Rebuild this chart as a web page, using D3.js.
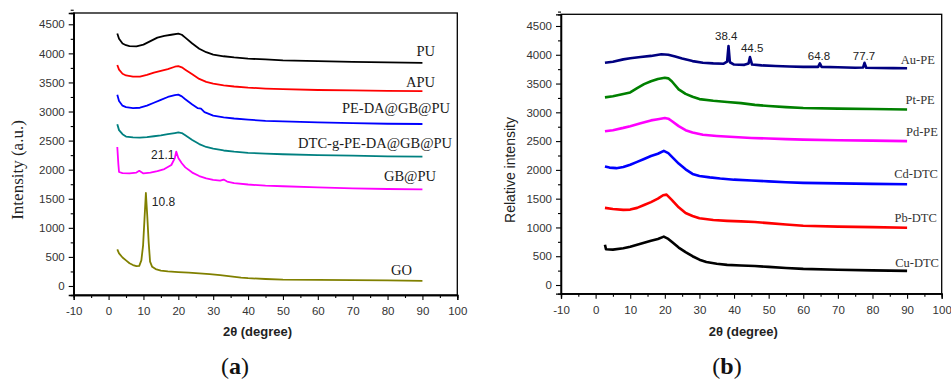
<!DOCTYPE html>
<html><head><meta charset="utf-8">
<script src="https://cdn.jsdelivr.net/npm/d3@7"></script>
<style>
body{margin:0;background:#fff;}
svg{display:block;}
</style></head>
<body>
<svg id="chart" width="951" height="380"></svg>
<script>
// ---------- DATA ----------
const xTicks = [-10,0,10,20,30,40,50,60,70,80,90,100];
const yTicks = [0,500,1000,1500,2000,2500,3000,3500,4000,4500];

// Panel (a)
const seriesA = ["PU","APU","PE-DA@GB@PU","DTC-g-PE-DA@GB@PU","GB@PU","GO"];
const PU = [[2.5,4340],[3,4250],[4,4170],[5,4140],[6,4125],[8,4120],[10,4150],[12,4210],[14,4270],[16,4300],[18,4320],[20,4340],[21,4320],[22,4270],[24,4170],[26,4080],[28,4020],[30,3980],[33,3950],[36,3930],[40,3910],[45,3895],[50,3880],[60,3865],[70,3855],[80,3845],[90,3835]];
const APU = [[2.5,3800],[3,3720],[4,3650],[5,3620],[7,3600],[9,3600],[11,3630],[13,3670],[15,3700],[17,3730],[19,3770],[20,3780],[21,3760],[22,3720],[24,3640],[26,3560],[28,3510],[30,3480],[33,3450],[36,3430],[40,3410],[45,3395],[50,3385],[60,3370],[70,3362],[80,3356],[90,3350]];
const PEDA = [[2.5,3290],[3,3180],[4,3100],[5,3075],[7,3060],[9,3065],[11,3100],[13,3150],[15,3200],[17,3250],[19,3280],[20,3290],[21,3260],[22,3210],[24,3120],[25.5,3060],[26.5,3050],[27.5,2990],[30,2930],[33,2900],[36,2880],[40,2860],[45,2840],[50,2830],[60,2815],[70,2800],[80,2790],[90,2785]];
const DTCG = [[2.5,2780],[3,2680],[4,2610],[5,2570],[7,2555],[9,2550],[11,2560],[13,2575],[15,2590],[17,2610],[19,2630],[20,2640],[21,2630],[22,2590],[24,2510],[26,2440],[28,2390],[30,2360],[33,2330],[36,2310],[40,2290],[45,2275],[50,2265],[60,2250],[70,2240],[80,2230],[90,2225]];
const GBPU = [[2.5,2390],[2.8,2100],[3,1960],[4,1940],[6,1935],[8,1950],[8.8,1980],[10,1935],[12,1950],[14,1975],[16,2010],[18,2080],[19,2200],[19.4,2310],[20,2200],[21,2110],[22,2040],[24,1950],[26,1890],[28,1850],[30,1825],[32,1810],[33,1830],[34,1795],[36,1770],[40,1745],[45,1725],[50,1715],[60,1695],[70,1680],[80,1668],[90,1660]];
const GO = [[2.5,630],[3,560],[4,490],[5,440],[6,390],[7,360],[8,340],[8.8,345],[9.4,440],[9.9,700],[10.3,1150],[10.7,1600],[11.1,1200],[11.5,750],[11.9,420],[12.5,330],[13.5,290],[15,265],[17,250],[20,240],[23,230],[26,218],[29,205],[32,185],[35,165],[38,145],[40,135],[45,120],[50,110],[60,105],[70,100],[80,95],[90,88]];
const peaksA = [{text:"21.1", x:12.2, v:2252},{text:"10.8", x:12.4, v:1444}];

// Panel (b)
const seriesB = ["Au-PE","Pt-PE","Pd-PE","Cd-DTC","Pb-DTC","Cu-DTC"];
const AuPE = [[2.7,3860],[5,3880],[8,3920],[10,3940],[13,3960],[16,3980],[19,4010],[21,4000],[23,3970],[25,3935],[28,3890],[31,3860],[34,3850],[37,3845],[38,3880],[38.4,4150],[38.8,3870],[40,3830],[43,3825],[44.2,3850],[44.6,3960],[45.2,3830],[48,3815],[52,3805],[56,3795],[60,3790],[64.3,3790],[64.8,3850],[65.3,3790],[70,3782],[75,3775],[77.3,3780],[77.7,3860],[78.2,3775],[82,3770],[86,3768],[90,3765]];
const PtPE = [[2.7,3260],[5,3280],[8,3320],[10,3345],[12,3420],[14,3490],[16,3540],[18,3580],[20,3600],[21,3590],[22,3540],[24,3400],[26,3320],[28,3270],[30,3230],[34,3200],[38,3180],[42,3160],[46,3130],[50,3110],[55,3090],[60,3075],[70,3065],[80,3058],[90,3050]];
const PdPE = [[2.7,2670],[5,2690],[8,2730],[10,2760],[13,2810],[16,2860],[18,2880],[20,2900],[21,2890],[22,2850],[24,2760],[26,2690],[28,2650],[31,2610],[35,2590],[40,2570],[45,2555],[50,2545],[55,2535],[60,2525],[70,2515],[80,2508],[90,2500]];
const CdDTC = [[2.7,2060],[4,2040],[6,2030],[8,2050],[10,2090],[12,2140],[14,2190],[16,2240],[18,2280],[19.7,2330],[21,2290],[22,2230],[24,2110],[26,2010],[28,1930],[30,1895],[33,1870],[36,1850],[40,1830],[45,1815],[50,1800],[55,1785],[60,1775],[70,1765],[80,1757],[90,1750]];
const PbDTC = [[2.7,1340],[5,1320],[8,1305],[10,1310],[12,1340],[14,1390],[16,1440],[18,1500],[19.5,1560],[20.5,1570],[22,1480],[24,1350],[26,1250],[28,1200],[30,1160],[34,1130],[38,1115],[42,1105],[46,1095],[50,1075],[55,1050],[60,1030],[70,1015],[80,1005],[90,995]];
const CuDTC = [[2.7,700],[3,620],[5,615],[8,640],[10,665],[12,700],[14,735],[16,770],[18,800],[19.7,840],[21,800],[22,750],[24,650],[26,570],[28,500],[30,440],[32,400],[35,370],[38,350],[42,340],[46,330],[50,315],[55,295],[60,280],[70,265],[80,255],[90,245]];
const peaksB = [{text:"38.4", x:34.5, v:4325},{text:"44.5", x:42, v:4117},{text:"64.8", x:61.3, v:3978},{text:"77.7", x:74.3, v:3978}];

// ---------- LAYOUT / STYLE ----------
const panels = [
  { left:73.7, right:457.3, top:13, bottom:295, yDomain:[-155,4694],
    names:seriesA, data:[PU,APU,PEDA,DTCG,GBPU,GO],
    colors:["#000000","#ff0000","#0000ff","#008080","#ff00ff","#808000"],
    labelPos:[[93.6,4045],[93.6,3507],[97.9,3060],[98.5,2458],[93.9,1891],[87,275]],
    labelSize:14.5, labelColor:"#1a1a1a", strokeW:1.8,
    peaks:peaksA, peakSize:12,
    yTitle:"Intensity (a.u.)", yTitleFont:"'Liberation Serif','Times New Roman',serif", yTitleSize:17, yTitleX:17,
    panelLabel:"a", panelX:235 },
  { left:561, right:941.7, top:14.3, bottom:293.7, yDomain:[-151,4703],
    names:seriesB, data:[AuPE,PtPE,PdPE,CdDTC,PbDTC,CuDTC],
    colors:["#000080","#008000","#ff00ff","#0000ff","#ff0000","#000000"],
    labelPos:[[98.0,3908],[98.0,3213],[98.9,2658],[98.9,1928],[98.6,1164],[99.2,382]],
    labelSize:12.5, labelColor:"#333333", strokeW:2.6,
    peaks:peaksB, peakSize:11.5,
    yTitle:"Relative intensity", yTitleFont:"'Liberation Sans',Arial,sans-serif", yTitleSize:14, yTitleX:510,
    panelLabel:"b", panelX:727 }
];

const svg = d3.select("#chart");
const sans = "'Liberation Sans',Arial,sans-serif";
const serif = "'Liberation Serif','Times New Roman',serif";
const fmt = d => String(d);

panels.forEach(p => {
  const x = d3.scaleLinear().domain([-10,100]).range([p.left,p.right]);
  const y = d3.scaleLinear().domain(p.yDomain).range([p.bottom,p.top]);
  const g = svg.append("g");

  // curves
  const line = d3.line().x(d=>x(d[0])).y(d=>y(d[1]));
  p.data.forEach((s,i)=>{
    g.append("path").datum(s).attr("d",line)
      .attr("fill","none").attr("stroke",p.colors[i])
      .attr("stroke-width",p.strokeW).attr("stroke-linejoin","round");
  });

  // frame (top/right)
  g.append("rect").attr("x",p.left).attr("y",p.top)
    .attr("width",p.right-p.left).attr("height",p.bottom-p.top)
    .attr("fill","none").attr("stroke","#000").attr("stroke-width",1.3);

  // axes
  const yAxis = d3.axisLeft(y).tickValues(yTicks).tickFormat(fmt).tickSize(5).tickPadding(4);
  const ya = g.append("g").attr("transform",`translate(${p.left},0)`).call(yAxis);
  const yMinor = d3.axisLeft(y).tickValues(yTicks.map(v=>v+250)).tickSize(3).tickFormat("");
  const ym = g.append("g").attr("transform",`translate(${p.left},0)`).call(yMinor);

  const xAxis = d3.axisBottom(x).tickValues(xTicks).tickFormat(fmt).tickSize(5).tickPadding(7);
  const xa = g.append("g").attr("transform",`translate(0,${p.bottom})`).call(xAxis);
  const xMinor = d3.axisBottom(x).tickValues(xTicks.slice(0,-1).map(v=>v+5)).tickSize(3).tickFormat("");
  const xm = g.append("g").attr("transform",`translate(0,${p.bottom})`).call(xMinor);

  [ya,ym,xa,xm].forEach(a=>{
    a.select(".domain").attr("stroke","#000").attr("stroke-width",1.3);
    a.selectAll(".tick line").attr("stroke","#000").attr("stroke-width",1.1);
    a.selectAll("text").attr("font-family",sans).attr("font-size",11.5).attr("fill","#333");
  });

  // series labels
  p.names.forEach((n,i)=>{
    g.append("text").attr("x",x(p.labelPos[i][0])).attr("y",y(p.labelPos[i][1]))
      .attr("text-anchor","end").attr("dominant-baseline","central")
      .attr("font-family",serif).attr("font-size",p.labelSize).attr("fill",p.labelColor).text(n);
  });

  // peak annotations
  p.peaks.forEach(k=>{
    g.append("text").attr("x",x(k.x)).attr("y",y(k.v))
      .attr("dominant-baseline","central")
      .attr("font-family",sans).attr("font-size",p.peakSize).attr("fill","#222").text(k.text);
  });

  // y title
  g.append("text").attr("transform",`translate(${p.yTitleX},${(p.top+p.bottom)/2 + 16}) rotate(-90)`)
    .attr("text-anchor","middle").attr("dominant-baseline","central")
    .attr("font-family",p.yTitleFont).attr("font-size",p.yTitleSize).attr("fill","#222").text(p.yTitle);

  // x title
  g.append("text").attr("x",(p.left+p.right)/2 - 8).attr("y",331)
    .attr("text-anchor","middle").attr("dominant-baseline","central")
    .attr("font-family",sans).attr("font-size",13).attr("font-weight","bold").attr("fill","#222")
    .text("2θ (degree)");

  // panel label
  const pl = g.append("text").attr("x",p.panelX).attr("y",366)
    .attr("text-anchor","middle").attr("dominant-baseline","central")
    .attr("font-family",serif).attr("font-size",24).attr("fill","#111");
  pl.append("tspan").text("(");
  pl.append("tspan").attr("font-weight","bold").text(p.panelLabel);
  pl.append("tspan").text(")");
});
</script>
</body></html>
